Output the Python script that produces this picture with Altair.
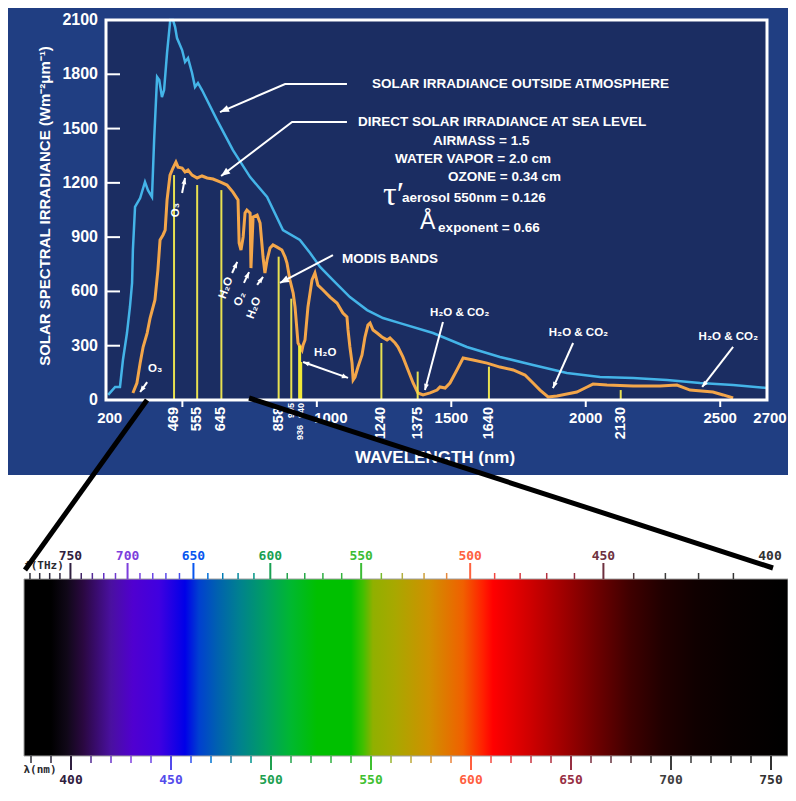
import math
import altair as alt
import pandas as pd

# ---------------- data ----------------
# Solar irradiance outside atmosphere (nm, W m-2 um-1)
BLUE_NM = [224, 250, 268, 279, 294, 305, 313, 316, 324, 343,
           361, 372, 387, 395, 406, 414, 424, 432, 443, 455,
           465, 473, 480, 499, 510, 521, 536, 547, 558, 573,
           629, 688, 752, 815, 874, 937, 975, 1012, 1060, 1123,
           1187, 1246, 1309, 1432, 1558, 1681, 1804, 1930, 2053, 2176,
           2302, 2425, 2548, 2674]
BLUE_W = [28, 72, 72, 221, 370, 514, 647, 829, 1067, 1116,
          1205, 1160, 1122, 1437, 1785, 1768, 1674, 1713, 1918, 2100,
          2100, 2061, 2000, 1934, 1868, 1890, 1807, 1730, 1752, 1713,
          1547, 1381, 1232, 1122, 939, 884, 812, 735, 663, 569,
          497, 453, 425, 370, 293, 238, 193, 149, 127, 122,
          111, 94, 83, 66]

# Direct solar irradiance at sea level
ORANGE_NM = [316, 331, 343, 354, 369, 380, 398, 409, 417, 428,
             436, 443, 454, 465, 476, 484, 499, 510, 521, 536,
             555, 573, 592, 614, 640, 666, 688, 707, 711, 718,
             726, 733, 740, 752, 755, 763, 778, 789, 800, 807,
             815, 826, 837, 852, 870, 882, 889, 900, 912, 919,
             930, 945, 949, 956, 967, 982, 993, 1004, 1023, 1049,
             1075, 1097, 1112, 1116, 1123, 1131, 1135, 1142, 1153, 1168,
             1179, 1190, 1198, 1209, 1224, 1242, 1261, 1272, 1291, 1302,
             1320, 1339, 1358, 1376, 1395, 1421, 1447, 1458, 1477, 1495,
             1521, 1544, 1581, 1633, 1681, 1730, 1774, 1804, 1830, 1860,
             1893, 1930, 1967, 2005, 2027, 2079, 2176, 2276, 2339, 2388,
             2473, 2511, 2548]
ORANGE_W = [39, 94, 204, 293, 370, 453, 553, 718, 884, 912,
            939, 1105, 1243, 1282, 1315, 1287, 1282, 1260, 1271, 1243,
            1227, 1238, 1227, 1221, 1205, 1188, 1149, 1105, 868, 829,
            901, 1033, 1050, 1033, 729, 1011, 1022, 978, 790, 702,
            774, 840, 857, 845, 829, 790, 757, 663, 591, 514,
            315, 276, 304, 332, 514, 663, 702, 635, 608, 569,
            536, 481, 459, 387, 293, 204, 111, 127, 182, 249,
            348, 414, 425, 387, 370, 348, 332, 343, 315, 293,
            238, 166, 94, 39, 28, 39, 55, 72, 66, 94,
            166, 232, 221, 204, 182, 166, 138, 94, 55, 17,
            22, 33, 44, 72, 88, 83, 77, 77, 83, 55,
            44, 28, 11]

# MODIS bands
BAND_NM = [469, 555, 645, 858, 905, 936, 940, 1240, 1375, 1640, 2130]
BAND_TOP = [1243, 1188, 1160, 792, 560, 300, 210, 315, 157, 184, 55]
BAND_BIG = [469, 555, 645, 858, 1240, 1375, 1640, 2130]
BAND_SMALL_TOP = [905, 940]
BAND_SMALL_LOW = [936]

Y_TICKS = [0, 300, 600, 900, 1200, 1500, 1800, 2100]
X_TICKS = [500, 1000, 1500, 2000, 2500]
X_LABELS_MID = [1500, 2000, 2500]
Y_TITLE = "SOLAR SPECTRAL IRRADIANCE (Wm\u207b\u00b2\u03bcm\u207b\u00b9)"

# annotation texts (nm, W m-2 um-1)
NOTE_T = ["SOLAR IRRADIANCE OUTSIDE ATMOSPHERE", "DIRECT SOLAR IRRADIANCE AT SEA LEVEL",
          "AIRMASS = 1.5", "WATER VAPOR = 2.0 cm", "OZONE = 0.34 cm",
          "aerosol 550nm = 0.126", "exponent = 0.66", "MODIS BANDS"]
NOTE_NM = [1205, 1153, 1432, 1291, 1488, 1317, 1451, 1094]
NOTE_V = [1746, 1536, 1431, 1332, 1232, 1116, 950, 779]

GAS_T = ["O\u2083", "O\u2083", "H\u2082O", "O\u2082", "H\u2082O", "H\u2082O"]
GAS_NM = [399, 476, 663, 715, 767, 1031]
GAS_V = [170, 1050, 619, 558, 508, 260]
GAS_ANG = [0, 270, 290, 290, 290, 0]

MIX_T = ["H\u2082O & CO\u2082"] * 3
MIX_NM = [1531, 1973, 2530]
MIX_V = [481, 370, 350]

ARROW_PATHS = [
    [(1112, 1746), (882, 1746), (640, 1591)],
    [(1112, 1536), (908, 1536), (644, 1238)],
    [(1060, 801), (863, 647)],
    [(499, 1144), (510, 1227)],
    [(369, 99), (343, 44)],
    [(685, 702), (704, 763)],
    [(729, 647), (748, 707)],
    [(778, 636), (800, 680)],
    [(949, 210), (1116, 122)],
    [(1469, 431), (1402, 55)],
    [(1953, 315), (1878, 66)],
    [(2548, 293), (2433, 72)],
]
ARROW_DOUBLE = [False] * 8 + [True] + [False] * 3
ARROW_BIG = [True, True, True] + [False] * 9

# visible spectrum strip
FREQ_LABELS = [750, 700, 650, 600, 550, 500, 450, 400]
FREQ_TICKS = list(range(410, 800, 10))
NM_LABELS = [400, 450, 500, 550, 600, 650, 700, 750]
NM_TICKS = list(range(380, 760, 10))
SPEC_NM = [376.5, 390, 398, 406, 420, 431, 444, 457, 464, 473,
           484, 498, 510, 523, 540, 546, 551, 562, 579, 596,
           606, 611, 629, 646, 662, 679, 696, 712, 729, 758.5]
SPEC_COL = ['#000000', '#000000', '#100818', '#2a0840', '#4a10a0', '#5000d0', '#4000e0', '#0000e8', '#0040d0', '#0060b0',
            '#008090', '#00a060', '#00b830', '#00c000', '#00c000', '#40c000', '#90b000', '#a8a800', '#d09000', '#f06000',
            '#ff2000', '#ff0000', '#d00000', '#a00000', '#700000', '#400000', '#200000', '#100000', '#080000', '#000000']
TICK_COL_NM = [378, 400, 415, 430, 460, 480, 500, 530, 550, 565, 585, 600, 615, 640, 665, 690, 760]
TICK_COL = ['#303038', '#302040', '#6030c0', '#8040e0', '#3050f0', '#2080a0', '#20a050', '#30b040', '#40c030',
            '#b0b040', '#e09040', '#ff6040', '#f04040', '#b03040', '#703040', '#404040', '#303030']

# ---------------- layout ----------------
SANS = "Liberation Sans"
SERIF = "Liberation Serif"
MONO = "DejaVu Sans Mono"
W, H = 661, 380
XD = [216, 2674]
YD = [0, 2100]
SD = [376.5, 758.5]
SR = [-82, 682]
PANEL = '#203e82'
PLOTBG = '#1b2d62'

XS = alt.Scale(domain=XD, nice=False, zero=False)
YS = alt.Scale(domain=YD, nice=False)
SX = alt.Scale(domain=SD, range=SR, nice=False, zero=False)
CS = alt.Scale(domain=TICK_COL_NM, range=TICK_COL)


def sx(nm):
    return (nm - XD[0]) / (XD[1] - XD[0]) * W


def sy(v):
    return H - (v - YD[0]) / (YD[1] - YD[0]) * H


def spx(nm):
    return SR[0] + (nm - SD[0]) / (SD[1] - SD[0]) * (SR[1] - SR[0])


def ang(p0, p1):
    dx = sx(p1[0]) - sx(p0[0])
    dy = sy(p1[1]) - sy(p0[1])
    return math.degrees(math.atan2(dx, -dy)) % 360


def xe():
    return alt.X('nm:Q', scale=XS, axis=None)


def ye():
    return alt.Y('v:Q', scale=YS, axis=None)


one = pd.DataFrame({'k': [0]})


def box(color, x0, x1, y0, y1):
    return alt.Chart(one).mark_rect(color=color).encode(
        x=alt.value(x0), x2=alt.value(x1), y=alt.value(y0), y2=alt.value(y1))


def tlayer(t, nm=None, v=None, size=13, align='left', angle=0, font=SANS, weight='bold',
           color='white', ypx=None, xpx=None, dx=0, baseline='middle'):
    d = {'t': t}
    if nm is not None:
        d['nm'] = nm
    if v is not None:
        d['v'] = v
    enc = dict(text='t:N')
    enc['x'] = xe() if xpx is None else alt.value(xpx)
    enc['y'] = ye() if ypx is None else alt.value(ypx)
    return alt.Chart(pd.DataFrame(d)).mark_text(
        fontSize=size, align=align, angle=angle, font=font, fontWeight=weight,
        color=color, dx=dx, baseline=baseline).encode(**enc)


# ---------------- solar chart ----------------
panel = box(PANEL, -99, 682, -20, 455)
plotbg = box(PLOTBG, 0, W, 0, H)

blue = alt.Chart(pd.DataFrame({'nm': BLUE_NM, 'v': BLUE_W})).mark_line(
    color='#44b4e8', strokeWidth=2.5).encode(x=xe(), y=ye())
orange = alt.Chart(pd.DataFrame({'nm': ORANGE_NM, 'v': ORANGE_W})).mark_line(
    color='#f3a64a', strokeWidth=3).encode(x=xe(), y=ye())

band_df = pd.DataFrame({'nm': BAND_NM, 'v': BAND_TOP})
bands = alt.Chart(band_df).transform_filter('datum.nm != 936 && datum.nm != 940').mark_rule(
    color='#e8e050', strokeWidth=2).encode(x=xe(), y=ye(), y2=alt.datum(0))
bands_thick = alt.Chart(band_df).transform_filter('datum.nm == 936 || datum.nm == 940').mark_rule(
    color='#f0e838', strokeWidth=3).encode(x=xe(), y=ye(), y2=alt.datum(0))

frame = alt.Chart(one).mark_rect(filled=False, color='white', strokeWidth=3).encode(
    x=alt.value(0), x2=alt.value(W), y=alt.value(0), y2=alt.value(H))

# axes drawn as marks
ydf = pd.DataFrame({'v': Y_TICKS, 't': [str(v) for v in Y_TICKS]})
yticks = alt.Chart(ydf).mark_rule(color='white', strokeWidth=2).encode(
    y=ye(), x=alt.value(0), x2=alt.value(14))
ylabels = alt.Chart(ydf).mark_text(font=SANS, fontSize=16, fontWeight='bold', color='white',
                                   align='right', baseline='middle').encode(
    y=ye(), x=alt.value(-8), text='t:N')
ytitle = tlayer([Y_TITLE], size=15, align='center', angle=270, xpx=-61, ypx=186)
xticks = alt.Chart(pd.DataFrame({'nm': X_TICKS})).mark_rule(color='white', strokeWidth=2).encode(
    x=xe(), y=alt.value(H + 1), y2=alt.value(H + 7))

# arrows
rows, heads = [], []
for i, (path, dbl, big) in enumerate(zip(ARROW_PATHS, ARROW_DOUBLE, ARROW_BIG)):
    for j, (a, b) in enumerate(path):
        rows.append({'id': i, 'o': j, 'nm': a, 'v': b})
    sz = 324 if big else 150
    heads.append({'nm': path[-1][0], 'v': path[-1][1], 'ang': ang(path[-2], path[-1]), 'sz': sz})
    if dbl:
        heads.append({'nm': path[0][0], 'v': path[0][1], 'ang': ang(path[1], path[0]), 'sz': sz})
shafts = alt.Chart(pd.DataFrame(rows)).mark_line(color='white', strokeWidth=2).encode(
    x=xe(), y=ye(), detail='id:N', order='o:Q')
arrowheads = alt.Chart(pd.DataFrame(heads)).mark_point(
    shape='M0,0L0.4,1L-0.4,1Z', filled=True, color='white', opacity=1, strokeWidth=0).encode(
    x=xe(), y=ye(), angle=alt.Angle('ang:Q', scale=None), size=alt.Size('sz:Q', scale=None))

notes = tlayer(NOTE_T, NOTE_NM, NOTE_V, size=13.5)
tau = tlayer(["\u03c4\u2032"], [1246], [1133], size=34, font=SERIF, weight='normal')
ang_sym = tlayer(["\u00c5"], [1384], [984], size=23, weight='normal')

gas_layers = []
for a_ in sorted(set(GAS_ANG)):
    idx = [k for k, g in enumerate(GAS_ANG) if g == a_]
    gas_layers.append(tlayer([GAS_T[k] for k in idx], [GAS_NM[k] for k in idx],
                             [GAS_V[k] for k in idx], size=11.5, align='center', angle=a_))
mix = tlayer(MIX_T, MIX_NM, MIX_V, size=11.5, align='center')

# x-axis labels
xl_mid = tlayer([str(v) for v in X_LABELS_MID], X_LABELS_MID, size=15, align='center', ypx=398)
xl_200 = tlayer(["200"], [200], size=15, align='center', ypx=398, dx=8)
xl_1000 = tlayer(["1000"], [1000], size=15, align='center', ypx=398, dx=14)
xl_2700 = tlayer(["2700"], [2700], size=15, align='center', ypx=398, dx=-4)
bl_big = tlayer([str(v) for v in BAND_BIG], BAND_BIG, size=14.5, align='right', angle=270, ypx=387)
bl_small = tlayer([str(v) for v in BAND_SMALL_TOP], BAND_SMALL_TOP, size=9, align='right',
                  angle=270, ypx=383)
bl_low = tlayer([str(v) for v in BAND_SMALL_LOW], BAND_SMALL_LOW, size=9, align='right',
                angle=270, ypx=405)
xtitle = tlayer(["WAVELENGTH (nm)"], size=17, align='center', xpx=329, ypx=438)

solar = alt.layer(panel, plotbg, blue, orange, bands, bands_thick, frame, yticks, xticks,
                  ylabels, ytitle, shafts, arrowheads, notes, tau, ang_sym, *gas_layers, mix,
                  xl_mid, xl_200, xl_1000, xl_2700, bl_big, bl_small, bl_low, xtitle)

# ---------------- spectrum strip ----------------
BAR_TOP, BAR_BOT = 559, 736
grad = {'gradient': 'linear', 'x1': 0, 'x2': 1, 'y1': 0, 'y2': 0,
        'stops': [{'offset': (n - SD[0]) / (SD[1] - SD[0]), 'color': c}
                  for n, c in zip(SPEC_NM, SPEC_COL)]}
strip = alt.Chart(pd.DataFrame({'nm': [SD[0]], 'b': [SD[1]]})).mark_rect(
    fill=grad, stroke='#a0a0a0', strokeWidth=1).encode(
    x=alt.X('nm:Q', scale=SX, axis=None), x2='b:Q', y=alt.value(BAR_TOP), y2=alt.value(BAR_BOT))

sxe = alt.X('nm:Q', scale=SX, axis=None)
col = alt.Color('nm:Q', scale=CS, legend=None)
fdf = pd.DataFrame({'f': FREQ_TICKS})
f_major = alt.Chart(fdf).transform_filter('datum.f % 50 == 0').transform_calculate(
    nm='299792.458 / datum.f').mark_rule(strokeWidth=2).encode(
    x=sxe, y=alt.value(BAR_TOP - 16), y2=alt.value(BAR_TOP), color=col)
f_minor = alt.Chart(fdf).transform_filter('datum.f % 50 != 0').transform_calculate(
    nm='299792.458 / datum.f').mark_rule(strokeWidth=1.5).encode(
    x=sxe, y=alt.value(BAR_TOP - 6), y2=alt.value(BAR_TOP), color=col)
f_lab = alt.Chart(pd.DataFrame({'f': FREQ_LABELS})).transform_calculate(
    nm='299792.458 / datum.f').mark_text(font=MONO, fontSize=13, fontWeight='bold').encode(
    x=sxe, y=alt.value(BAR_TOP - 23), text=alt.Text('f:Q', format='d'), color=col)

ndf = pd.DataFrame({'nm': NM_TICKS})
n_major = alt.Chart(ndf).transform_filter('datum.nm % 50 == 0').mark_rule(strokeWidth=2).encode(
    x=sxe, y=alt.value(BAR_BOT), y2=alt.value(BAR_BOT + 14), color=col)
n_minor = alt.Chart(ndf).transform_filter('datum.nm % 50 != 0').mark_rule(strokeWidth=1.5).encode(
    x=sxe, y=alt.value(BAR_BOT), y2=alt.value(BAR_BOT + 7), color=col)
n_lab = alt.Chart(pd.DataFrame({'nm': NM_LABELS})).mark_text(
    font=MONO, fontSize=13, fontWeight='bold').encode(
    x=sxe, y=alt.value(BAR_BOT + 24), text=alt.Text('nm:Q', format='d'), color=col)

f_name = alt.Chart(one).mark_text(text="f(THz)", font=MONO, fontSize=11, fontWeight='bold',
                                  color='#2a2a30').encode(x=alt.value(-62), y=alt.value(BAR_TOP - 13))
n_name = alt.Chart(one).mark_text(text="\u03bb(nm)", font=MONO, fontSize=11, fontWeight='bold',
                                  color='#2a2a30').encode(x=alt.value(-66), y=alt.value(BAR_BOT + 14))

conn_l = alt.Chart(one).mark_rule(color='black', strokeWidth=5).encode(
    x=alt.value(sx(368.5)), y=alt.value(H), x2=alt.value(spx(377)), y2=alt.value(BAR_TOP - 9))
conn_r = alt.Chart(one).mark_rule(color='black', strokeWidth=5).encode(
    x=alt.value(sx(748)), y=alt.value(H - 2), x2=alt.value(spx(751)), y2=alt.value(BAR_TOP - 11))

spec = alt.layer(strip, f_minor, f_major, n_minor, n_major, f_lab, n_lab, f_name, n_name,
                 conn_l, conn_r)

chart = alt.layer(solar, spec).resolve_scale(
    x='independent', y='independent', color='independent').properties(
    width=W, height=H, autosize=alt.AutoSizeParams(type='none'),
    padding={'left': 98, 'top': 12, 'right': 21, 'bottom': 388}
).configure(background='white', font=SANS).configure_view(stroke='transparent')

chart.save("out.html", embed_options={"renderer": "svg", "actions": False})
